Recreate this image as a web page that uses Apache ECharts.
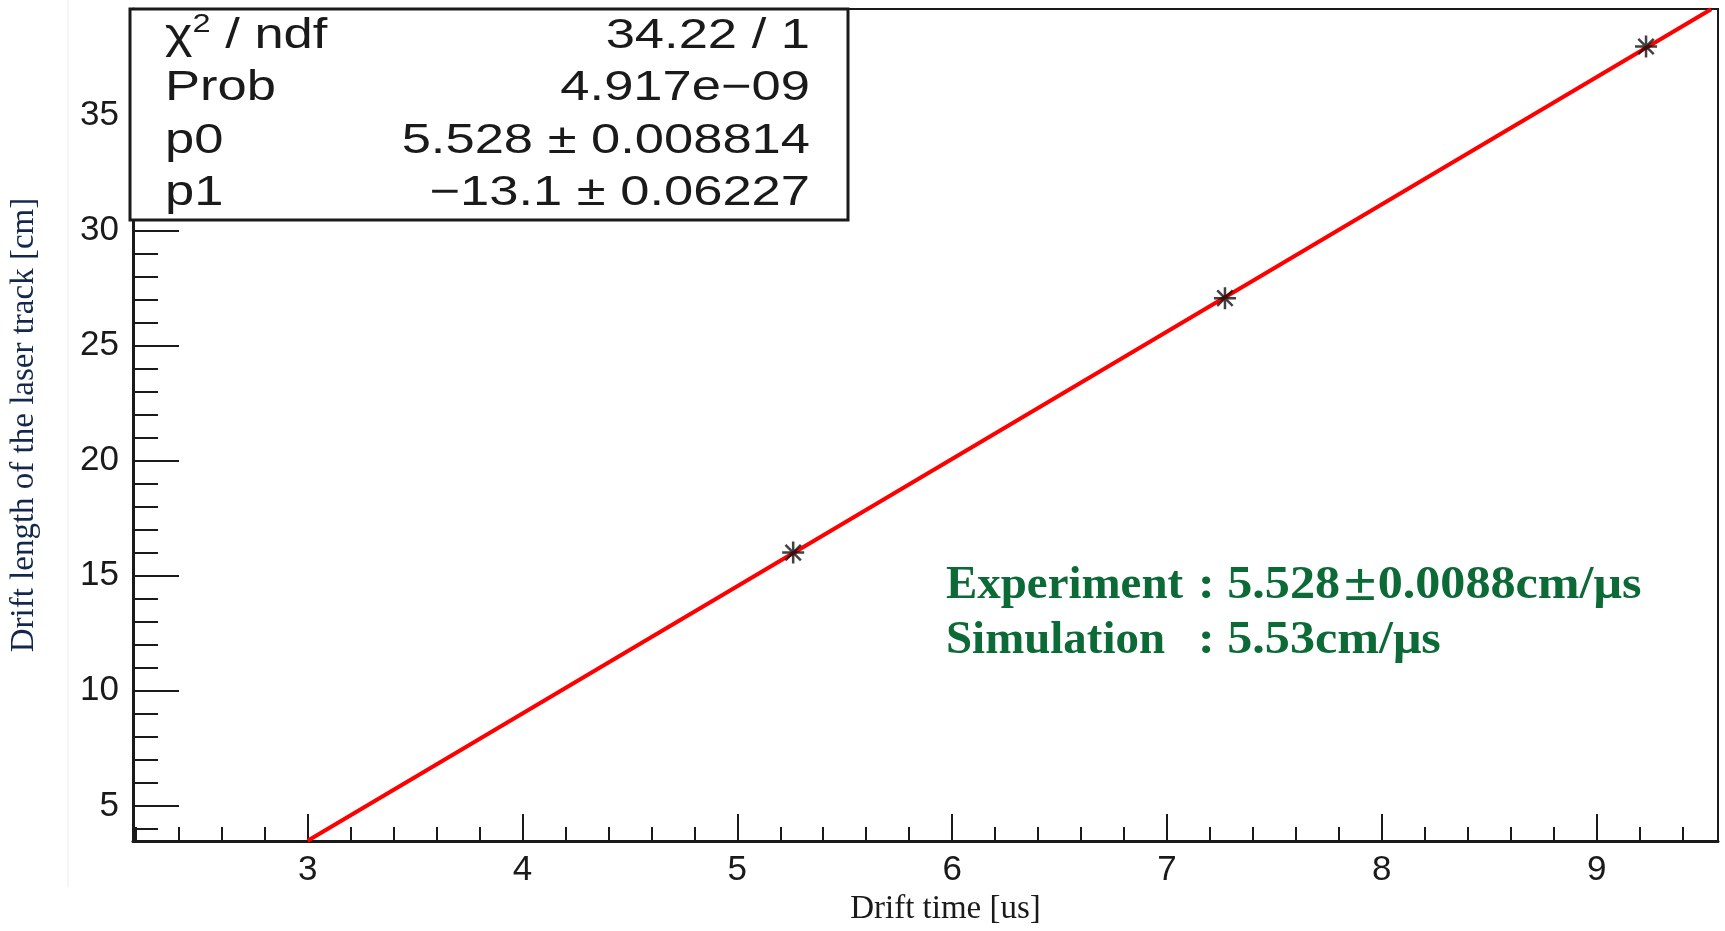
<!DOCTYPE html>
<html>
<head>
<meta charset="utf-8">
<script src="https://cdn.jsdelivr.net/npm/echarts@6/dist/echarts.min.js"></script>
<style>
html,body{margin:0;padding:0;background:#fff;}
#chart{width:1725px;height:931px;}
</style>
</head>
<body>
<div id="chart"></div>
<script>
// ---- data ----
const xMajorTicks = [3, 4, 5, 6, 7, 8, 9];
const xMinorTicks = [2.2, 2.4, 2.6, 2.8, 3.2, 3.4, 3.6, 3.8, 4.2, 4.4, 4.6, 4.8, 5.2, 5.4, 5.6, 5.8,
  6.2, 6.4, 6.6, 6.8, 7.2, 7.4, 7.6, 7.8, 8.2, 8.4, 8.6, 8.8, 9.2, 9.4];
const yMajorTicks = [5, 10, 15, 20, 25, 30, 35];
const yMinorTicks = [4, 6, 7, 8, 9, 11, 12, 13, 14, 16, 17, 18, 19, 21, 22, 23, 24,
  26, 27, 28, 29, 31, 32, 33, 34, 36, 37, 38, 39];
const pointX = [5.26, 7.27, 9.23];
const pointY = [16.0, 27.05, 37.98];
const fitX = [3.0, 9.533];
const fitY = [3.484, 39.6];
const statLabels = ['{a|χ}{s|2}{a| / ndf}', 'Prob', 'p0', 'p1'];
const statValues = ['34.22 / 1', '4.917e\u221209', '5.528 ± 0.008814', '\u221213.1 ± 0.06227'];
const noteLabels = ['Experiment', 'Simulation'];
const noteValues = [': 5.528{pm|±}0.0088cm/μs', ': 5.53cm/μs'];

const xRange = [2.187, 9.565];
const yRange = [3.47, 39.61];

const SANS = 'Liberation Sans';
const SERIF = 'Liberation Serif';
const INK = '#1a1a1a';
const GREEN = '#0b6a35';

const chart = echarts.init(document.getElementById('chart'), null, {renderer: 'canvas'});

const graphics = [
  {type: 'line', z: 1, shape: {x1: 68, y1: 0, x2: 68, y2: 887}, style: {stroke: '#ececec', lineWidth: 1}},
  {type: 'rect', z: 100, shape: {x: 130, y: 9, width: 718, height: 211},
   style: {fill: '#fff', stroke: INK, lineWidth: 3}}
];
const rowY = [36, 88, 141, 193];
statLabels.forEach((t, i) => {
  graphics.push({type: 'text', z: 101, x: 165, y: rowY[i], scaleX: 1.25,
    style: {text: t, fontFamily: SANS, fontSize: 42, fill: INK, textVerticalAlign: 'middle', textAlign: 'left',
      rich: {a: {fontFamily: SANS, fontSize: 42, fill: INK}, s: {fontFamily: SANS, fontSize: 26, fill: INK, padding: [0, 0, 22, 0]}}}});
  graphics.push({type: 'text', z: 101, x: 810, y: rowY[i], scaleX: 1.25,
    style: {text: statValues[i], fontFamily: SANS, fontSize: 42, fill: INK, textVerticalAlign: 'middle', textAlign: 'right'}});
});
const noteY = [586, 641];
noteLabels.forEach((t, i) => {
  graphics.push({type: 'text', z: 101, x: 946, y: noteY[i], scaleX: 1.02,
    style: {text: t, fontFamily: SERIF, fontWeight: 'bold', fontSize: 46, fill: GREEN, textVerticalAlign: 'middle'}});
  graphics.push({type: 'text', z: 101, x: 1198, y: noteY[i], scaleX: 1.09,
    style: {text: noteValues[i], fontFamily: SERIF, fontWeight: 'bold', fontSize: 46, fill: GREEN, textVerticalAlign: 'middle',
      rich: {pm: {fontFamily: SANS, fontWeight: 'normal', fontSize: 52, fill: GREEN, padding: [0, 2, 0, 4]}}}});
});

const option = {
  backgroundColor: '#fff',
  animation: false,
  grid: {left: 130, right: 7, top: 9, bottom: 85, show: true, borderColor: INK, borderWidth: 2, backgroundColor: 'transparent'},
  xAxis: [
    {type: 'value', min: xRange[0], max: xRange[1], position: 'bottom',
     name: 'Drift time [us]', nameLocation: 'middle', nameGap: 50,
     nameTextStyle: {fontFamily: SERIF, fontSize: 33, color: INK, padding: [0, 0, 0, 40]},
     axisLine: {show: true, lineStyle: {color: INK, width: 3}},
     axisTick: {show: true, inside: true, length: 27, customValues: xMajorTicks, lineStyle: {color: INK, width: 2}},
     axisLabel: {show: true, customValues: xMajorTicks, fontFamily: SANS, fontSize: 35, color: INK, margin: 12},
     splitLine: {show: false}},
    {type: 'value', min: xRange[0], max: xRange[1], position: 'bottom',
     axisLine: {show: false},
     axisTick: {show: true, inside: true, length: 14, customValues: xMinorTicks, lineStyle: {color: INK, width: 2}},
     axisLabel: {show: false}, splitLine: {show: false}}
  ],
  yAxis: [
    {type: 'value', min: yRange[0], max: yRange[1], position: 'left',
     name: 'Drift length of the laser track [cm]', nameLocation: 'middle', nameGap: 92, nameRotate: 90,
     nameTextStyle: {fontFamily: SERIF, fontSize: 33, color: '#14284d'},
     axisLine: {show: true, lineStyle: {color: INK, width: 3}},
     axisTick: {show: true, inside: true, length: 46, customValues: yMajorTicks, lineStyle: {color: INK, width: 2}},
     axisLabel: {show: true, customValues: yMajorTicks, fontFamily: SANS, fontSize: 35, color: INK, margin: 14},
     splitLine: {show: false}},
    {type: 'value', min: yRange[0], max: yRange[1], position: 'left',
     axisLine: {show: false},
     axisTick: {show: true, inside: true, length: 25, customValues: yMinorTicks, lineStyle: {color: INK, width: 2}},
     axisLabel: {show: false}, splitLine: {show: false}}
  ],
  series: [
    {type: 'line', xAxisIndex: 0, yAxisIndex: 0, z: 3, symbol: 'none',
     lineStyle: {color: '#ff0000', width: 4},
     data: fitX.map((x, i) => [x, fitY[i]])},
    {type: 'scatter', xAxisIndex: 0, yAxisIndex: 0, z: 5,
     symbol: 'path://M0,-10L0,10M-10,0L10,0M-7,-7L7,7M-7,7L7,-7', symbolSize: 22,
     itemStyle: {color: 'rgba(0,0,0,0)', borderColor: '#111', borderWidth: 2.5},
     data: pointX.map((x, i) => [x, pointY[i]])}
  ],
  graphic: graphics
};
chart.setOption(option);
</script>
</body>
</html>
